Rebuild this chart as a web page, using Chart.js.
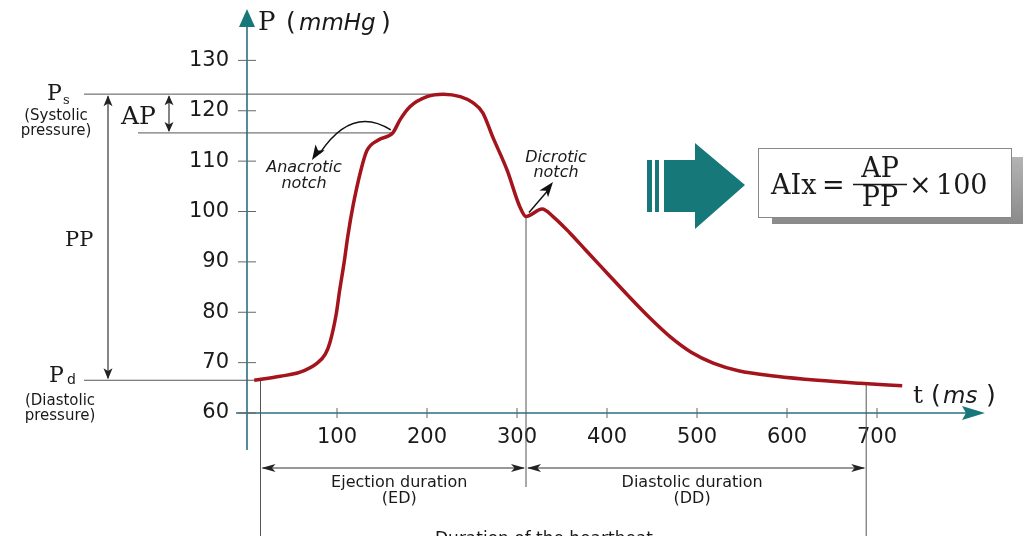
<!DOCTYPE html>
<html>
<head>
<meta charset="utf-8">
<script src="https://cdn.jsdelivr.net/npm/chart.js@4.4.1/dist/chart.umd.min.js"></script>
<style>
  html, body { margin: 0; padding: 0; background: #fff; }
  #wrap { width: 1024px; height: 536px; }
</style>
</head>
<body>
<div id="wrap"><canvas id="pulse" width="1024" height="536"></canvas></div>
<script>
// pressure wave, t in ms and P in mmHg
const times = [8, 37, 59, 78, 87, 92, 99, 103, 108, 112, 118, 126, 133, 146, 162, 170, 181, 200, 218, 237, 251, 262, 273, 289, 303, 310, 328, 340, 359, 377, 401, 424, 448, 471, 494, 518, 546, 588, 634, 681, 728];
const pressures = [66.5, 67.3, 68.1, 69.9, 71.7, 73.9, 79.5, 84.4, 90.0, 95.1, 101.3, 107.8, 112.0, 114.2, 115.6, 118.2, 120.8, 122.8, 123.3, 122.8, 121.6, 119.6, 114.8, 108.2, 101.0, 99.0, 100.5, 99.0, 95.7, 92.2, 87.6, 83.2, 78.8, 75.0, 72.0, 69.9, 68.4, 67.3, 66.5, 65.9, 65.4];

// axis ticks
const xTicks = [100, 200, 300, 400, 500, 600, 700];
const yTicks = [60, 70, 80, 90, 100, 110, 120, 130];

// marked instants (ms)
const edStart = 15;     // start of ejection
const notchTime = 310;  // dicrotic notch
const beatEnd = 688;    // end of the beat
const anacroticTime = 162;

const TEAL = "#17787a";
const AXIS = "#2a6f80";
const GREY = "#555";

// levels taken from the wave itself
const Ps = Math.max(...pressures);
const Pd = pressures[0];
const Pnotch = pressures[times.indexOf(anacroticTime)];
const Pdicrotic = pressures[times.indexOf(notchTime)];

function head(ctx, x, y, ang, len, half, color) {
  ctx.save();
  ctx.translate(x, y);
  ctx.rotate(ang);
  ctx.beginPath();
  ctx.moveTo(0, 0);
  ctx.lineTo(-len, -half);
  ctx.lineTo(-len * 0.75, 0);
  ctx.lineTo(-len, half);
  ctx.closePath();
  ctx.fillStyle = color;
  ctx.fill();
  ctx.restore();
}

function line(ctx, x1, y1, x2, y2, color, w) {
  ctx.beginPath();
  ctx.moveTo(x1, y1);
  ctx.lineTo(x2, y2);
  ctx.strokeStyle = color;
  ctx.lineWidth = w || 1;
  ctx.stroke();
}

function text(ctx, s, x, y, font, align) {
  ctx.font = font;
  ctx.textAlign = align || "left";
  ctx.textBaseline = "alphabetic";
  ctx.fillStyle = "#1a1a1a";
  ctx.fillText(s, x, y);
}

const decor = {
  id: "decor",
  beforeDatasetsDraw(chart) {
    const ctx = chart.ctx;
    const xs = chart.scales.x, ys = chart.scales.y;
    const x0 = xs.getPixelForValue(0);
    const yb = ys.getPixelForValue(60);
    ctx.save();

    // axes with arrow heads
    line(ctx, x0, 26, x0, 450, AXIS, 1.6);
    line(ctx, 236, yb, 966, yb, AXIS, 1.6);
    ctx.beginPath();
    ctx.moveTo(x0, 9); ctx.lineTo(x0 - 8, 27); ctx.lineTo(x0 + 8, 27); ctx.closePath();
    ctx.fillStyle = TEAL; ctx.fill();
    ctx.beginPath();
    ctx.moveTo(985, yb); ctx.lineTo(962, yb - 7); ctx.lineTo(966, yb); ctx.lineTo(962, yb + 7); ctx.closePath();
    ctx.fill();

    // tick marks
    yTicks.forEach(v => { const y = ys.getPixelForValue(v); line(ctx, x0 - 9, y, x0 + 9, y, "#666", 1); });
    xTicks.forEach(v => { const x = xs.getPixelForValue(v); line(ctx, x, yb - 5, x, yb + 5, "#666", 1); });

    // reference levels
    const ySys = ys.getPixelForValue(Ps);
    const yDia = ys.getPixelForValue(Pd);
    const yAnac = ys.getPixelForValue(Pnotch);
    line(ctx, 84, ySys, xs.getPixelForValue(218), ySys, GREY, 1);
    line(ctx, 138, yAnac, xs.getPixelForValue(anacroticTime), yAnac, GREY, 1);
    line(ctx, 84, yDia, xs.getPixelForValue(times[0]), yDia, GREY, 1);

    // vertical markers
    const xe = xs.getPixelForValue(edStart);
    const xn = xs.getPixelForValue(notchTime);
    const xend = xs.getPixelForValue(beatEnd);
    line(ctx, xe, yDia, xe, 536, GREY, 1);
    line(ctx, xn, ys.getPixelForValue(Pdicrotic), xn, 487, GREY, 1);
    line(ctx, xend, ys.getPixelForValue(66.0), xend, 536, GREY, 1);

    // PP and AP arrows
    line(ctx, 108, ySys + 2, 108, yDia - 2, "#333", 1.2);
    head(ctx, 108, ySys + 1, -Math.PI / 2, 11, 4.5, "#222");
    head(ctx, 108, yDia - 1, Math.PI / 2, 11, 4.5, "#222");
    line(ctx, 169, ySys + 2, 169, yAnac - 2, "#333", 1.2);
    head(ctx, 169, ySys + 1, -Math.PI / 2, 10, 4.5, "#222");
    head(ctx, 169, yAnac - 1, Math.PI / 2, 10, 4.5, "#222");

    // ED / DD arrows
    const ya = 468;
    line(ctx, xe + 2, ya, xn - 2, ya, "#333", 1.2);
    head(ctx, xe + 1, ya, Math.PI, 14, 4, "#222");
    head(ctx, xn - 1, ya, 0, 14, 4, "#222");
    line(ctx, xn + 2, ya, xend - 2, ya, "#333", 1.2);
    head(ctx, xn + 1, ya, Math.PI, 14, 4, "#222");
    head(ctx, xend - 1, ya, 0, 14, 4, "#222");
    ctx.restore();
  },
  afterDatasetsDraw(chart) {
    const ctx = chart.ctx;
    const xs = chart.scales.x, ys = chart.scales.y;
    const xe = xs.getPixelForValue(edStart);
    const xn = xs.getPixelForValue(notchTime);
    const xend = xs.getPixelForValue(beatEnd);
    ctx.save();

    // axis titles
    text(ctx, "P", 258, 30, "26px 'DejaVu Serif'");
    text(ctx, "(", 286, 30, "25px 'DejaVu Sans'");
    text(ctx, "mmHg", 299, 30, "italic 23px 'DejaVu Sans'");
    text(ctx, ")", 381, 30, "25px 'DejaVu Sans'");
    text(ctx, "t", 913, 403, "25px 'DejaVu Serif'");
    text(ctx, "(", 931, 403, "25px 'DejaVu Sans'");
    text(ctx, "ms", 943, 403, "italic 23px 'DejaVu Sans'");
    text(ctx, ")", 986, 403, "25px 'DejaVu Sans'");

    // left labels
    text(ctx, "P", 47, 100, "22px 'DejaVu Serif'");
    text(ctx, "s", 63, 104, "13px 'DejaVu Serif'");
    text(ctx, "(Systolic", 56, 120, "15px 'DejaVu Sans'", "center");
    text(ctx, "pressure)", 56, 135, "15px 'DejaVu Sans'", "center");
    text(ctx, "AP", 121, 124, "25px 'DejaVu Serif'");
    text(ctx, "PP", 65, 246, "21px 'DejaVu Serif'");
    text(ctx, "P", 49, 382, "22px 'DejaVu Serif'");
    text(ctx, "d", 67, 384, "14px 'DejaVu Sans'");
    text(ctx, "(Diastolic", 60, 405, "15px 'DejaVu Sans'", "center");
    text(ctx, "pressure)", 60, 420, "15px 'DejaVu Sans'", "center");

    // notch labels and arrows
    const ax = xs.getPixelForValue(anacroticTime), ay = ys.getPixelForValue(Pnotch);
    ctx.beginPath();
    ctx.moveTo(ax - 2, ay - 3);
    ctx.quadraticCurveTo(352, 105, 320, 153);
    ctx.strokeStyle = "#111"; ctx.lineWidth = 1.4; ctx.stroke();
    head(ctx, 312, 160, Math.atan2(153 - 125, 320 - 338), 15, 5.5, "#111");
    text(ctx, "Anacrotic", 304, 172, "italic 16px 'DejaVu Sans'", "center");
    text(ctx, "notch", 304, 188, "italic 16px 'DejaVu Sans'", "center");

    const dx = xn + 3, dy = ys.getPixelForValue(Pdicrotic) - 4;
    line(ctx, dx, dy, 550, 188, "#111", 1.4);
    head(ctx, 553, 182, Math.atan2(182 - dy, 553 - dx), 15, 5.5, "#111");
    text(ctx, "Dicrotic", 556, 162, "italic 16px 'DejaVu Sans'", "center");
    text(ctx, "notch", 556, 177, "italic 16px 'DejaVu Sans'", "center");

    // durations
    text(ctx, "Ejection duration", (xe + xn) / 2 + 6, 487, "16px 'DejaVu Sans'", "center");
    text(ctx, "(ED)", (xe + xn) / 2 + 6, 503, "16px 'DejaVu Sans'", "center");
    text(ctx, "Diastolic duration", (xn + xend) / 2 - 4, 487, "16px 'DejaVu Sans'", "center");
    text(ctx, "(DD)", (xn + xend) / 2 - 4, 503, "16px 'DejaVu Sans'", "center");
    text(ctx, "Duration of the heartbeat", 544, 544, "17px 'DejaVu Sans'", "center");

    // block arrow
    ctx.fillStyle = TEAL;
    ctx.fillRect(647, 160, 5, 52);
    ctx.fillRect(655, 160, 4, 52);
    ctx.beginPath();
    ctx.moveTo(664, 160); ctx.lineTo(695, 160); ctx.lineTo(695, 143);
    ctx.lineTo(745, 185); ctx.lineTo(695, 229); ctx.lineTo(695, 212);
    ctx.lineTo(664, 212); ctx.closePath();
    ctx.fill();

    // formula box
    const g = ctx.createLinearGradient(0, 150, 0, 224);
    g.addColorStop(0, "#b8b8b8"); g.addColorStop(1, "#8a8a8a");
    ctx.fillStyle = g;
    ctx.fillRect(772, 157, 251, 67);
    ctx.fillStyle = "#fff";
    ctx.fillRect(758, 148, 253, 69);
    ctx.strokeStyle = "#888"; ctx.lineWidth = 1;
    ctx.strokeRect(758.5, 148.5, 253, 69);
    const ff = "27px 'DejaVu Serif'";
    text(ctx, "AIx", 771, 194, ff);
    text(ctx, "=", 822, 194, ff);
    text(ctx, "AP", 880, 177, ff, "center");
    line(ctx, 853, 184.5, 907, 184.5, "#1a1a1a", 1.6);
    text(ctx, "PP", 880, 206, ff, "center");
    text(ctx, "\u00d7", 909, 194, ff);
    text(ctx, "100", 936, 194, ff);
    ctx.restore();
  }
};

new Chart(document.getElementById("pulse").getContext("2d"), {
  type: "line",
  data: {
    datasets: [{
      data: times.map((t, i) => ({ x: t, y: pressures[i] })),
      borderColor: "#a3141c",
      borderWidth: 3.5,
      pointRadius: 0,
      cubicInterpolationMode: "monotone",
      fill: false
    }]
  },
  options: {
    responsive: false,
    animation: false,
    layout: { padding: { left: 0, top: 10, right: 39, bottom: 0 } },
    plugins: { legend: { display: false }, tooltip: { enabled: false } },
    scales: {
      x: {
        type: "linear", min: 0, max: 820,
        grid: { display: false, drawTicks: false }, border: { display: false },
        afterBuildTicks: s => { s.ticks = xTicks.map(v => ({ value: v })); },
        afterFit: s => { s.height = 123; s.paddingLeft = 0; s.paddingRight = 0; },
        ticks: { font: { family: "DejaVu Sans", size: 21 }, color: "#1a1a1a", padding: 12, maxRotation: 0, autoSkip: false }
      },
      y: {
        min: 60, max: 140,
        grid: { display: false, drawTicks: false }, border: { display: false },
        afterBuildTicks: s => { s.ticks = yTicks.map(v => ({ value: v })); },
        afterFit: s => { s.width = 247; s.paddingTop = 0; s.paddingBottom = 0; },
        ticks: { font: { family: "DejaVu Sans", size: 21 }, color: "#1a1a1a", padding: 18, autoSkip: false }
      }
    }
  },
  plugins: [decor]
});
</script>
</body>
</html>
